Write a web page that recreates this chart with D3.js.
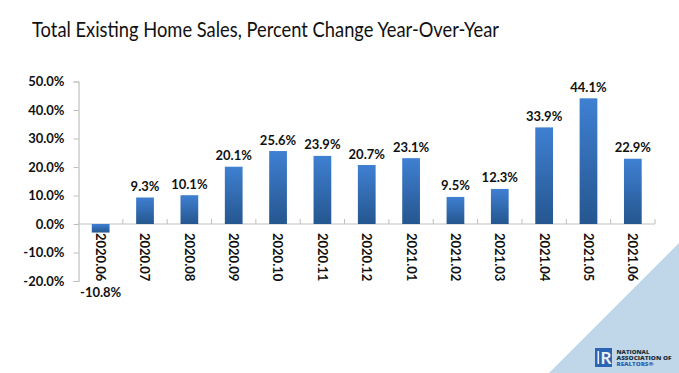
<!DOCTYPE html>
<html>
<head>
<meta charset="utf-8">
<script src="https://cdn.jsdelivr.net/npm/d3@7"></script>
<style>
  html, body { margin: 0; padding: 0; background: #fff; }
  svg { display: block; font-family: Lato, "Open Sans", sans-serif; }
</style>
</head>
<body>
<svg id="chart" width="679" height="373"></svg>
<script>
const months = ["2020.06", "2020.07", "2020.08", "2020.09", "2020.10", "2020.11", "2020.12",
  "2021.01", "2021.02", "2021.03", "2021.04", "2021.05", "2021.06"];
// bar heights as drawn; the first bar is drawn much shorter than its printed label
const barValues = [-3.0, 9.3, 10.1, 20.1, 25.6, 23.9, 20.7, 23.1, 9.5, 12.3, 33.9, 44.1, 22.9];
const barLabels = ["-10.8%", "9.3%", "10.1%", "20.1%", "25.6%", "23.9%", "20.7%",
  "23.1%", "9.5%", "12.3%", "33.9%", "44.1%", "22.9%"];
const yTicks = [-20, -10, 0, 10, 20, 30, 40, 50];

const svg = d3.select("#chart");
const margin = { top: 81.5, left: 78.5, right: 24, bottom: 92 };
const width = 679 - margin.left - margin.right;
const height = 373 - margin.top - margin.bottom;

// corner triangle
svg.append("polygon")
  .attr("points", "549,373 679,243 679,373")
  .attr("fill", "#bfd7e8");

svg.append("text")
  .attr("x", 32)
  .attr("y", 37)
  .attr("font-size", 20.5)
  .attr("textLength", 467)
  .attr("lengthAdjust", "spacingAndGlyphs")
  .attr("fill", "#111")
  .text("Total Existing Home Sales, Percent Change Year-Over-Year");

const g = svg.append("g")
  .attr("transform", `translate(${margin.left},${margin.top})`);

const x = d3.scaleBand()
  .domain(months)
  .range([0, width])
  .paddingInner(0.6)
  .paddingOuter(0.3);

const y = d3.scaleLinear()
  .domain([-20, 50])
  .range([height, 0]);

const defs = svg.append("defs");
const grad = defs.append("linearGradient")
  .attr("id", "barFill")
  .attr("x1", 0).attr("y1", 0).attr("x2", 0).attr("y2", 1);
grad.append("stop").attr("offset", "0%").attr("stop-color", "#3f80d2");
grad.append("stop").attr("offset", "100%").attr("stop-color", "#25568f");

const yAxis = d3.axisLeft(y)
  .tickValues(yTicks)
  .tickSize(5)
  .tickPadding(9)
  .tickFormat(d => d.toFixed(1) + "%");

const yAxisG = g.append("g").attr("class", "axis y-axis").call(yAxis);
yAxisG.selectAll("path, line").attr("stroke", "#bfbfbf");
yAxisG.select(".domain").attr("stroke-width", 1.2);
yAxisG.selectAll("text")
  .attr("fill", "#111")
  .style("font-size", "13px")
  .style("font-weight", "700")
  .style("font-family", "Lato, sans-serif");

// baseline with ticks between the categories
g.append("line")
  .attr("x1", 0).attr("x2", width)
  .attr("y1", y(0)).attr("y2", y(0))
  .attr("stroke", "#bfbfbf")
  .attr("stroke-width", 1.2);

g.selectAll(".cat-tick")
  .data(months)
  .enter()
  .append("line")
  .attr("class", "cat-tick")
  .attr("x1", d => x(d) + x.bandwidth() / 2 + x.step() / 2)
  .attr("x2", d => x(d) + x.bandwidth() / 2 + x.step() / 2)
  .attr("y1", y(0) - 5)
  .attr("y2", y(0))
  .attr("stroke", "#bfbfbf");

g.selectAll(".bar")
  .data(months)
  .enter()
  .append("rect")
  .attr("class", "bar")
  .attr("x", d => x(d))
  .attr("width", x.bandwidth())
  .attr("y", (d, i) => y(Math.max(0, barValues[i])))
  .attr("height", (d, i) => Math.abs(y(barValues[i]) - y(0)))
  .attr("fill", "url(#barFill)");

// rotated month labels
g.selectAll(".month")
  .data(months)
  .enter()
  .append("text")
  .attr("class", "month")
  .attr("transform", d => `translate(${x(d) + x.bandwidth() / 2},${y(0) + 9}) rotate(90)`)
  .attr("dy", "0.35em")
  .attr("font-size", 13)
  .attr("font-weight", 700)
  .attr("fill", "#111")
  .text(d => d);

g.selectAll(".bar-label")
  .data(months)
  .enter()
  .append("text")
  .attr("class", "bar-label")
  .attr("x", d => x(d) + x.bandwidth() / 2)
  .attr("y", (d, i) => barValues[i] < 0 ? y(-20) + 16 : y(barValues[i]) - 6.5)
  .attr("text-anchor", "middle")
  .attr("font-size", 13)
  .attr("font-weight", 700)
  .attr("fill", "#111")
  .text((d, i) => barLabels[i]);

// logo
const logo = svg.append("g");
logo.append("rect").attr("x", 595).attr("y", 348).attr("width", 17).attr("height", 19).attr("fill", "#2b63b5");
logo.append("rect").attr("x", 597.5).attr("y", 351).attr("width", 1.6).attr("height", 13).attr("fill", "#e8f0f7");
logo.append("text").attr("x", 606).attr("y", 364).attr("text-anchor", "middle")
  .attr("font-size", 17).attr("font-weight", 700).attr("fill", "#e8f0f7").text("R");
const logoLines = [["NATIONAL", "#22303f", 353.7, 33], ["ASSOCIATION OF", "#22303f", 360, 55], ["REALTORS®", "#2b63b5", 366.3, 37]];
logo.selectAll(".logo-line")
  .data(logoLines)
  .enter()
  .append("text")
  .attr("class", "logo-line")
  .attr("x", 616.5)
  .attr("y", d => d[2])
  .attr("font-size", 4.6)
  .attr("font-weight", 800)
  .attr("font-family", "Open Sans, sans-serif")
  .attr("textLength", d => d[3])
  .attr("lengthAdjust", "spacingAndGlyphs")
  .attr("fill", d => d[1])
  .text(d => d[0]);
</script>
</body>
</html>
